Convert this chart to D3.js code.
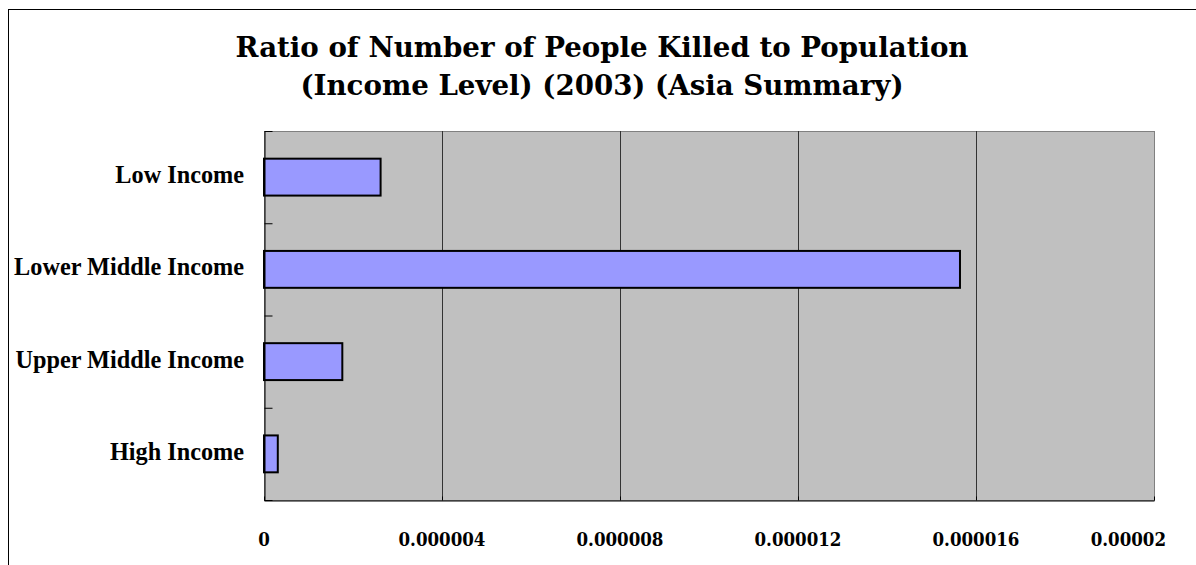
<!DOCTYPE html>
<html>
<head>
<meta charset="utf-8">
<script src="https://cdn.jsdelivr.net/npm/d3@7"></script>
<style>
  html, body { margin: 0; padding: 0; background: #ffffff; }
  svg { display: block; }
</style>
</head>
<body>
<svg id="chart" width="1196" height="565"></svg>
<script>
const categories = ["Low Income", "Lower Middle Income", "Upper Middle Income", "High Income"];
const values = [0.00000262, 0.00001564, 0.00000176, 0.00000031];
const xTickValues = [0, 0.000004, 0.000008, 0.000012, 0.000016, 0.00002];
const xTickLabels = ["0", "0.000004", "0.000008", "0.000012", "0.000016", "0.00002"];
const titleLines = ["Ratio of Number of People Killed to Population", "(Income Level) (2003) (Asia Summary)"];

const W = 1196, H = 565;
const plot = { left: 264, right: 1154, top: 131, bottom: 500 };

const svg = d3.select("#chart");

// chart area frame
svg.append("rect")
  .attr("x", 8.5).attr("y", 9.5)
  .attr("width", 1200).attr("height", 600)
  .attr("fill", "#ffffff").attr("stroke", "#000000").attr("stroke-width", 1);

const x = d3.scaleLinear().domain([0, 0.00002]).range([plot.left, plot.right]);
const y = d3.scaleBand().domain(categories).range([plot.top, plot.bottom])
  .paddingInner(0.6).paddingOuter(0.3);

// plot area
svg.append("rect")
  .attr("x", plot.left + 0.5).attr("y", plot.top + 0.5)
  .attr("width", plot.right - plot.left).attr("height", plot.bottom - plot.top)
  .attr("fill", "#c0c0c0").attr("stroke", "#808080").attr("stroke-width", 1);

// gridlines
svg.append("g")
  .selectAll("line")
  .data(xTickValues.filter(v => v > 0 && v < 0.00002))
  .join("line")
  .attr("x1", d => Math.round(x(d)) + 0.5).attr("x2", d => Math.round(x(d)) + 0.5)
  .attr("y1", plot.top).attr("y2", plot.bottom)
  .attr("stroke", "#333333").attr("stroke-width", 1);

// bars
svg.append("g")
  .selectAll("rect")
  .data(categories.map((c, i) => ({ c, v: values[i] })))
  .join("rect")
  .attr("x", x(0))
  .attr("y", d => y(d.c))
  .attr("width", d => x(d.v) - x(0))
  .attr("height", y.bandwidth())
  .attr("fill", "#9999ff")
  .attr("stroke", "#000000")
  .attr("stroke-width", 2);

// y axis (category boundaries as inward ticks)
const yAxis = d3.axisRight(d3.scaleLinear().domain([0, categories.length]).range([plot.top, plot.bottom]))
  .tickValues(d3.range(categories.length + 1))
  .tickSize(8).tickSizeOuter(0).tickFormat("");
const gy = svg.append("g").attr("transform", `translate(${plot.left + 0.5},0)`).call(yAxis);
gy.select(".domain").attr("stroke", "#000000");
gy.selectAll(".tick line").attr("stroke", "#000000");

// x axis
const xAxis = d3.axisTop(x).tickValues(xTickValues).tickSize(4).tickSizeOuter(0).tickFormat("");
const gx = svg.append("g").attr("transform", `translate(0,${plot.bottom + 0.5})`).call(xAxis);
gx.select(".domain").attr("stroke", "#000000");
gx.selectAll(".tick line").attr("stroke", "#000000");

function fitText(sel, target) {
  const fs = parseFloat(sel.attr("font-size"));
  const w = sel.node().getComputedTextLength();
  sel.attr("font-size", (fs * target / w).toFixed(2));
}

// category labels
const catLabels = svg.append("g")
  .selectAll("text")
  .data(categories)
  .join("text")
  .attr("x", 244)
  .attr("y", d => y(d) + y.bandwidth() / 2 + 6)
  .attr("text-anchor", "end")
  .attr("font-family", "'Liberation Serif', 'Times New Roman', serif")
  .attr("font-weight", "bold")
  .attr("font-size", 23)
  .attr("fill", "#000000")
  .text(d => d);
{
  const ref = catLabels.filter(d => d === "Lower Middle Income");
  const fs = 23, w = ref.node().getComputedTextLength();
  catLabels.attr("font-size", (fs * 230 / w).toFixed(2));
}

// x tick labels: sized by digit height, squeezed horizontally to match widths
const tickG = svg.append("g");
const tickLabels = tickG
  .selectAll("text")
  .data(xTickValues.map((v, i) => ({ v, t: xTickLabels[i], last: i === xTickValues.length - 1 })))
  .join("text")
  .attr("x", 0)
  .attr("y", 0)
  .attr("text-anchor", d => d.last ? "end" : "middle")
  .attr("font-family", "'DejaVu Serif', serif")
  .attr("font-weight", "bold")
  .attr("font-size", 19)
  .attr("fill", "#000000")
  .text(d => d.t);
{
  const ref = tickLabels.filter(d => d.t === "0.000004");
  const ratio = 87 / ref.node().getComputedTextLength();
  tickLabels.attr("transform", d => `translate(${d.last ? 1166 : x(d.v)},546) scale(${ratio.toFixed(4)},1)`);
}

// title
const titleWidths = [733, 581];
const titleBaselines = [57, 95];
titleLines.forEach((t, i) => {
  const tt = svg.append("text")
    .attr("class", "title")
    .attr("x", 602)
    .attr("y", titleBaselines[i])
    .attr("text-anchor", "middle")
    .attr("font-family", "'DejaVu Serif', serif")
    .attr("font-weight", "bold")
    .attr("font-size", 26)
    .attr("fill", "#000000")
    .text(t);
  if (i === 0) fitText(tt, titleWidths[0]);
});
{
  const titles = svg.selectAll("text.title");
  const fs = d3.select(titles.nodes()[0]).attr("font-size");
  titles.attr("font-size", fs);
}
</script>
</body>
</html>
